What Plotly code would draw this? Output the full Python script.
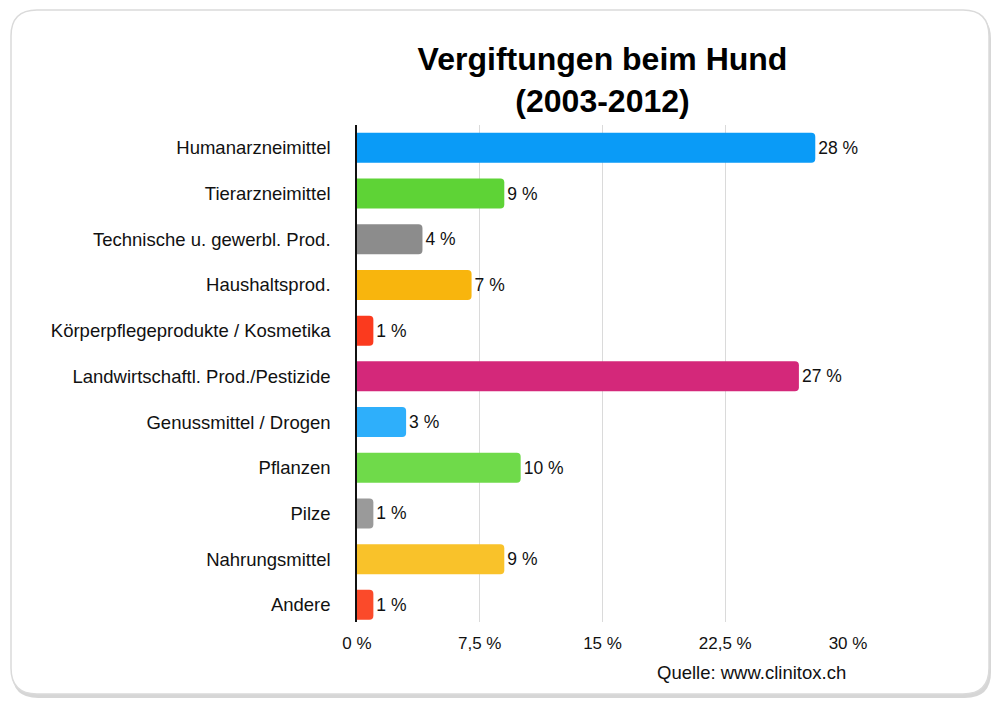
import plotly.graph_objects as go

categories = [
    "Humanarzneimittel",
    "Tierarzneimittel",
    "Technische u. gewerbl. Prod.",
    "Haushaltsprod.",
    "Körperpflegeprodukte / Kosmetika",
    "Landwirtschaftl. Prod./Pestizide",
    "Genussmittel / Drogen",
    "Pflanzen",
    "Pilze",
    "Nahrungsmittel",
    "Andere",
]
values = [28, 9, 4, 7, 1, 27, 3, 10, 1, 9, 1]
bar_colors = [
    "#0A9BF7", "#5ED336", "#8C8C8C", "#F8B50D", "#FB3A1E",
    "#D4287A", "#2EAFFB", "#6FDA4A", "#9A9A9A", "#F9C22A", "#FB4A2A",
]
tick_vals = [0, 7.5, 15, 22.5, 30]
tick_text = ["0 %", "7,5 %", "15 %", "22,5 %", "30 %"]

W, H = 1000, 706
L, R, T, B = 357, 152, 125, 84
PW, PH = W - L - R, H - T - B


def px2paper(x, y):
    return (x - L) / PW, (H - B - y) / PH


def rounded_rect(x0, y0, x1, y1, r):
    def p(x, y):
        a, b = px2paper(x, y)
        return f"{a:.5f},{b:.5f}"
    path = f"M {p(x0 + r, y0)} L {p(x1 - r, y0)} Q {p(x1, y0)} {p(x1, y0 + r)} "
    path += f"L {p(x1, y1 - r)} Q {p(x1, y1)} {p(x1 - r, y1)} "
    path += f"L {p(x0 + r, y1)} Q {p(x0, y1)} {p(x0, y1 - r)} "
    path += f"L {p(x0, y0 + r)} Q {p(x0, y0)} {p(x0 + r, y0)} Z"
    return path


fig = go.Figure()
fig.add_trace(go.Bar(
    y=categories,
    x=values,
    orientation="h",
    marker=dict(color=bar_colors, cornerradius=4, line=dict(width=0)),
    text=[f"{v} %" for v in values],
    textposition="outside",
    textfont=dict(size=17.5, color="#111111", family="Liberation Sans"),
    cliponaxis=False,
    hoverinfo="skip",
))

shapes = [
    dict(type="path", xref="paper", yref="paper", path=rounded_rect(12, 13, 991, 698, 26),
         fillcolor="rgba(0,0,0,0.16)", line=dict(width=0), layer="below"),
    dict(type="path", xref="paper", yref="paper", path=rounded_rect(11, 10, 989, 694, 26),
         fillcolor="white", line=dict(color="#DADADA", width=1.5), layer="below"),
]

fig.update_layout(
    width=W, height=H,
    margin=dict(l=L, r=R, t=T, b=B),
    paper_bgcolor="white",
    plot_bgcolor="rgba(0,0,0,0)",
    font=dict(family="Liberation Sans", size=17, color="#111111"),
    title=dict(
        text="Vergiftungen beim Hund<br>(2003-2012)",
        x=0.5, xref="paper", xanchor="center",
        y=1 - 70 / H, yref="container", yanchor="middle",
        font=dict(size=32, family="Liberation Sans", color="#000000", weight="bold"),
    ),
    shapes=shapes,
    showlegend=False,
    bargap=0.344,
    xaxis=dict(
        range=[0, 30],
        tickvals=tick_vals,
        ticktext=tick_text,
        showgrid=True,
        gridcolor="#DADADA",
        gridwidth=1,
        zeroline=False,
        showline=False,
        ticks="",
        ticklabelstandoff=9,
        tickfont=dict(size=17),
    ),
    yaxis=dict(
        range=[10.375, -0.5],
        showline=True,
        linecolor="#111111",
        linewidth=1.5,
        ticks="",
        showgrid=False,
        ticklabelstandoff=21,
        tickfont=dict(size=18.5),
    ),
    annotations=[
        dict(text="Quelle: www.clinitox.ch", xref="paper", yref="paper",
             x=1.0, y=(H - B - 672) / PH, xanchor="right", yanchor="middle", showarrow=False,
             font=dict(size=18.5, color="#111111")),
    ],
)

fig.write_html("out.html", config={"displayModeBar": False},
               post_script="document.body.style.margin='0';")
